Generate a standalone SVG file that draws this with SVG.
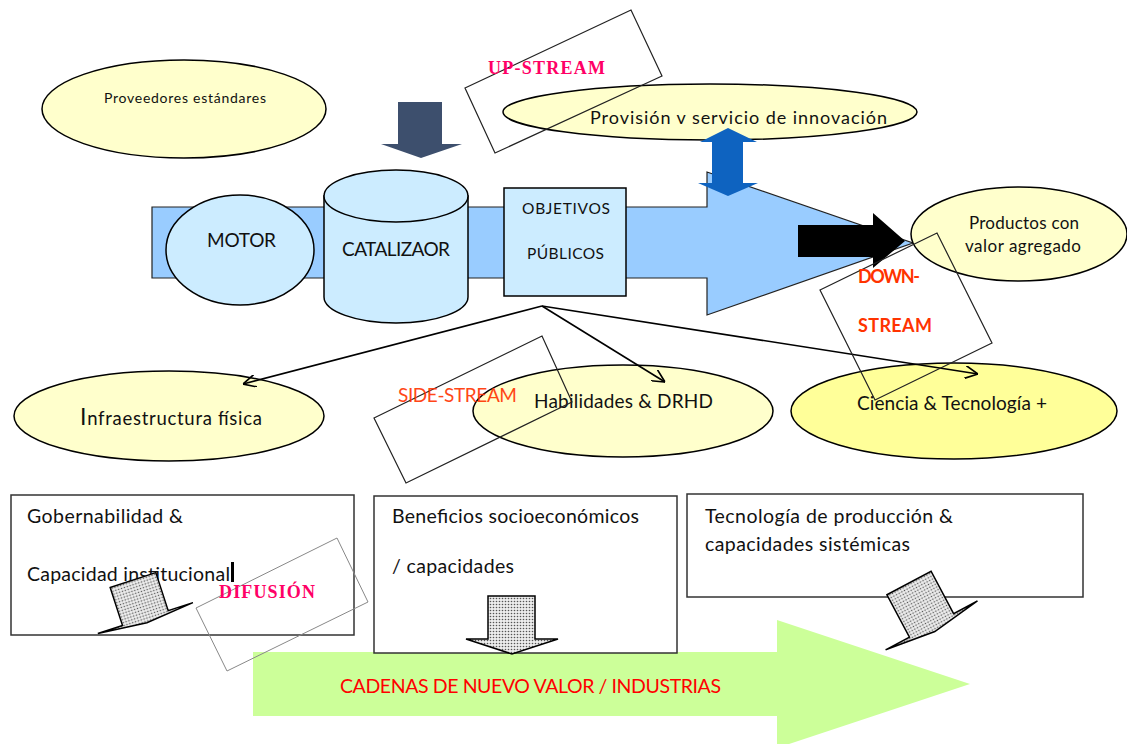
<svg xmlns="http://www.w3.org/2000/svg" width="1127" height="744" viewBox="0 0 1127 744">
<defs>
<style>
.t{font-family:Lato,"Liberation Sans",sans-serif;fill:#111}
.s{font-family:"Liberation Serif",serif;font-weight:bold;fill:#FF0066;font-size:18px}
.o{font-family:Lato,"Liberation Sans",sans-serif;fill:#FF3300}
.ye{fill:#FFFFCC;stroke:#000;stroke-width:1.5}
.lb{fill:#CCECFF;stroke:#000;stroke-width:1.5}
.box{fill:#fff;stroke:#333;stroke-width:1.5}
.tag{fill:none;stroke:#222;stroke-width:1.2}
.gray{fill:url(#dots);stroke:#000;stroke-width:1.5;stroke-linejoin:miter}
.con{fill:none;stroke:#000;stroke-width:1.6;marker-end:url(#open)}
</style>
<pattern id="dots" width="3" height="3" patternUnits="userSpaceOnUse"><rect width="3" height="3" fill="#ececec"/><circle cx="1.5" cy="1.5" r="0.8" fill="#555"/></pattern>
<marker id="open" viewBox="0 0 10 10" refX="10" refY="5" markerWidth="13" markerHeight="13" markerUnits="userSpaceOnUse" orient="auto"><path d="M0,0 L10,5 L0,10" fill="none" stroke="#000" stroke-width="1.3"/></marker>
</defs>
<rect width="1127" height="744" fill="#fff"/>

<g id="green-arrow">
<polygon points="253,652 777,652 777,620 970,684 777,748 777,716 253,716" fill="#CCFF99"/>
<text class="t" x="340" y="693" font-size="19.5" textLength="381" style="fill:#FF0000">CADENAS DE NUEVO VALOR / INDUSTRIAS</text>
</g>

<g id="main-arrow">
<polygon points="152,207 707,207 707,172 913,243 707,315 707,278 152,278" fill="#99CCFF" stroke="#222" stroke-width="1.2"/>
</g>

<g id="proveedores">
<ellipse class="ye" cx="184" cy="109" rx="142" ry="49"/>
<text class="t" x="104" y="103" font-size="14" textLength="162">Proveedores estándares</text>
</g>

<g id="dark-arrow">
<polygon points="398,102 442,102 442,144 462,144 421,158 381,144 398,144" fill="#3D4F6D"/>
</g>

<g id="provision">
<ellipse class="ye" cx="710" cy="112" rx="207" ry="28"/>
<text class="t" x="590" y="124" font-size="18" textLength="297">Provisión v servicio de innovación</text>
</g>

<g id="upstream">
<polygon class="tag" points="465,88 631,10 662,76 495,153"/>
<text class="s" x="488" y="74" textLength="117">UP-STREAM</text>
</g>

<g id="blue-double-arrow">
<polygon points="728,128 757,142 743,142 743,183 758,183 728,196 698,183 712,183 712,142 700,142" fill="#0E63C0"/>
</g>

<g id="motor">
<ellipse class="lb" cx="240" cy="250" rx="74" ry="55"/>
<text class="t" x="207" y="247" font-size="19" textLength="69">MOTOR</text>
</g>

<g id="catalizador">
<path class="lb" d="M324,196 L324,297 A72,26 0 0 0 468,297 L468,196 Z"/>
<ellipse class="lb" cx="396" cy="196" rx="72" ry="26"/>
<text class="t" x="342" y="256" font-size="19" textLength="108">CATALIZAOR</text>
</g>

<g id="objetivos">
<rect class="lb" x="504" y="188" width="122" height="108"/>
<text class="t" x="522" y="214" font-size="15.5" textLength="88">OBJETIVOS</text>
<text class="t" x="527" y="259" font-size="15.5" textLength="77">PÚBLICOS</text>
</g>

<g id="black-arrow">
<polygon points="798,225 873,225 873,213 905,241 873,268 873,257 798,257" fill="#000"/>
</g>

<g id="productos">
<ellipse class="ye" cx="1019" cy="234" rx="108" ry="47"/>
<text class="t" x="969" y="229" font-size="17" textLength="110">Productos con</text>
<text class="t" x="965" y="252" font-size="17" textLength="116">valor agregado</text>
</g>

<g id="infraestructura">
<ellipse class="ye" cx="169" cy="416" rx="155" ry="45"/>
<text class="t" x="80" y="425" font-size="18.5" textLength="182"><tspan font-size="23">I</tspan>nfraestructura física</text>
</g>

<g id="habilidades">
<ellipse class="ye" cx="623" cy="411" rx="150" ry="46"/>
<text class="t" x="534" y="408" font-size="19" textLength="179">Habilidades &amp; DRHD</text>
</g>

<g id="ciencia">
<ellipse cx="954" cy="411" rx="163" ry="48" fill="#FFFF99" stroke="#000" stroke-width="1.5"/>
<text class="t" x="857" y="410" font-size="19" textLength="190">Ciencia &amp; Tecnología +</text>
</g>

<g id="connectors">
<line class="con" x1="542" y1="306" x2="243" y2="384"/>
<line class="con" x1="542" y1="306" x2="665" y2="382"/>
<line class="con" x1="542" y1="306" x2="978" y2="374"/>
</g>

<g id="sidestream">
<polygon class="tag" points="374,418 542,336 572,402 406,483"/>
<text class="o" x="398" y="402" font-size="19" textLength="119" opacity="0.9">SIDE-STREAM</text>
</g>

<g id="downstream">
<polygon class="tag" points="820,290 937,233 992,343 875,400"/>
<text class="o" x="858" y="283" font-size="18" font-weight="bold" textLength="62">DOWN-</text>
<text class="o" x="858" y="332" font-size="18" font-weight="bold" textLength="74">STREAM</text>
</g>

<g id="gobernabilidad">
<rect class="box" x="11" y="495" width="343" height="140"/>
<text class="t" x="27" y="523" font-size="19.5" textLength="156">Gobernabilidad &amp;</text>
<text class="t" x="27" y="581" font-size="19.5" textLength="203">Capacidad institucional</text>
<rect x="231" y="562" width="3" height="20" fill="#000"/>
<polygon class="gray" transform="translate(133,580) rotate(-18)" points="-24,0 24,0 24,40 50,40 0,45 -50,40 -24,40"/>
</g>

<g id="beneficios">
<rect class="box" x="374" y="496" width="303" height="157"/>
<text class="t" x="392" y="523" font-size="19.5" textLength="247">Beneficios socioeconómicos</text>
<text class="t" x="392" y="573" font-size="19.5" textLength="122">/ capacidades</text>
<polygon class="gray" points="488,596 535,596 535,639 558,639 512,654 466,639 488,639"/>
</g>

<g id="tecnologia">
<rect class="box" x="687" y="494" width="396" height="103"/>
<text class="t" x="705" y="523" font-size="19.5" textLength="248">Tecnología de producción &amp;</text>
<text class="t" x="705" y="551" font-size="19.5" textLength="205">capacidades sistémicas</text>
<polygon class="gray" transform="translate(909,583) rotate(-28)" points="-25,0 25,0 25,48 52,48 0,55 -52,48 -25,48"/>
</g>

<g id="difusion">
<polygon points="196,608 337,538 368,602 227,671" fill="none" stroke="#888" stroke-width="1"/>
<text class="s" x="219" y="598" textLength="96">DIFUSIÓN</text>
</g>
</svg>
